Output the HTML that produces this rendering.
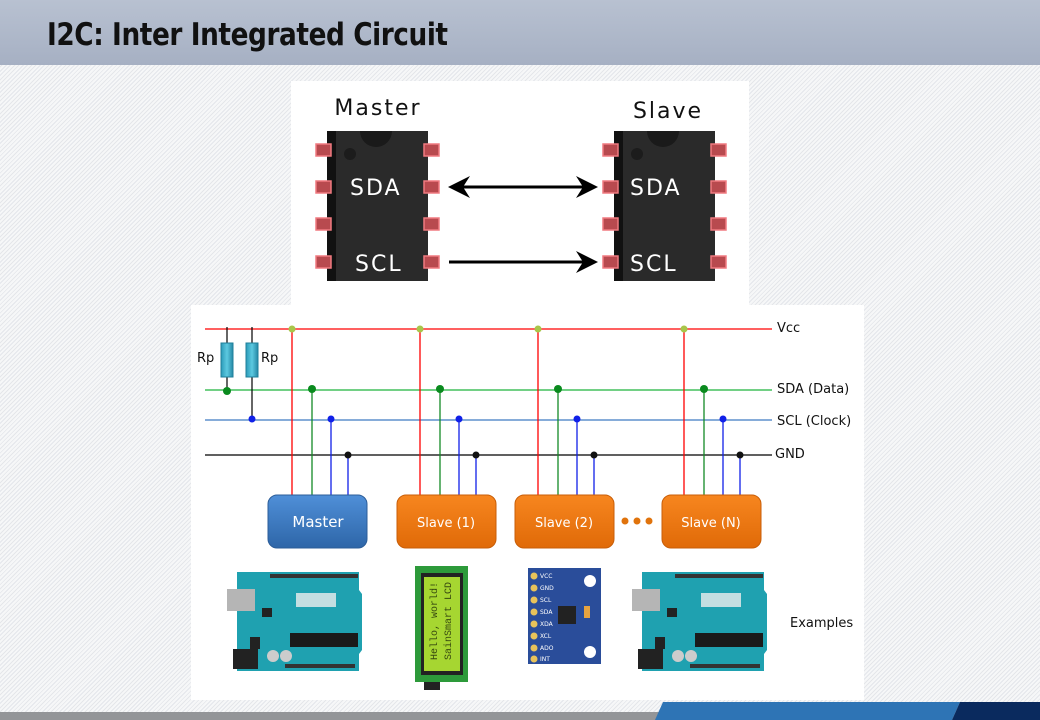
<!DOCTYPE html>
<html><head><meta charset="utf-8"><style>
html,body{margin:0;padding:0;width:1040px;height:720px;overflow:hidden}
body{background:#f3f4f6 repeating-linear-gradient(135deg,#f6f7f8 0 2px,#e4e6ea 2px 3px);position:relative;font-family:"Liberation Sans",sans-serif}
#hdr{position:absolute;left:0;top:0;width:1040px;height:65px;background:linear-gradient(#b8c1d1,#a6b0c3)}
#hdr div{position:absolute;left:47px;top:17px;font-size:31px;font-weight:bold;color:#111;font-family:"DejaVu Sans","Liberation Sans",sans-serif;letter-spacing:-0.5px;transform:scaleX(0.85);transform-origin:0 0;white-space:nowrap}
svg{position:absolute;left:0;top:0}
</style></head><body>
<div id="hdr"><div>I2C: Inter Integrated Circuit</div></div>
<svg width="1040" height="720" viewBox="0 0 1040 720" font-family="DejaVu Sans, Liberation Sans, sans-serif">
<defs>
<linearGradient id="bl" x1="0" y1="0" x2="0" y2="1"><stop offset="0" stop-color="#4f8fd8"/><stop offset="1" stop-color="#2e66a8"/></linearGradient>
<linearGradient id="or" x1="0" y1="0" x2="0" y2="1"><stop offset="0" stop-color="#f7861f"/><stop offset="1" stop-color="#e06a08"/></linearGradient>
<linearGradient id="rp" x1="0" y1="0" x2="1" y2="0"><stop offset="0" stop-color="#2b9ab8"/><stop offset=".5" stop-color="#5cc9e0"/><stop offset="1" stop-color="#2588a6"/></linearGradient>
</defs>
<rect x="291" y="81" width="458" height="224" fill="#fff"/>
<rect x="191" y="305" width="673" height="395" fill="#fff"/>
<g>
<text x="378" y="115" font-size="22" text-anchor="middle" fill="#111" letter-spacing="2">Master</text>
<text x="668" y="118" font-size="22" text-anchor="middle" fill="#111" letter-spacing="2">Slave</text>
<rect x="327" y="131" width="101" height="150" fill="#2a2a2a"/><rect x="327" y="131" width="9" height="150" fill="#111"/>
<path d="M360 131 a16 16 0 0 0 32 0z" fill="#1a1a1a"/><circle cx="350" cy="154" r="6" fill="#1c1c1c"/>
<rect x="614" y="131" width="101" height="150" fill="#2a2a2a"/><rect x="614" y="131" width="9" height="150" fill="#111"/>
<path d="M647 131 a16 16 0 0 0 32 0z" fill="#1a1a1a"/><circle cx="637" cy="154" r="6" fill="#1c1c1c"/>
<g fill="#b84a4f" stroke="#f07a80" stroke-width="1.5">
<rect x="316" y="144" width="15" height="12"/><rect x="316" y="181" width="15" height="12"/><rect x="316" y="218" width="15" height="12"/><rect x="316" y="256" width="15" height="12"/>
<rect x="424" y="144" width="15" height="12"/><rect x="424" y="181" width="15" height="12"/><rect x="424" y="218" width="15" height="12"/><rect x="424" y="256" width="15" height="12"/>
<rect x="603" y="144" width="15" height="12"/><rect x="603" y="181" width="15" height="12"/><rect x="603" y="218" width="15" height="12"/><rect x="603" y="256" width="15" height="12"/>
<rect x="711" y="144" width="15" height="12"/><rect x="711" y="181" width="15" height="12"/><rect x="711" y="218" width="15" height="12"/><rect x="711" y="256" width="15" height="12"/>
</g>
<g fill="#fff" font-size="22" letter-spacing="2"><text x="350" y="195">SDA</text><text x="355" y="271">SCL</text><text x="630" y="195">SDA</text><text x="630" y="271">SCL</text></g>
<line x1="462" y1="187" x2="585" y2="187" stroke="#000" stroke-width="3"/>
<path d="M448 187 L470 176 L463 187 L470 198Z M598 187 L576 176 L583 187 L576 198Z" fill="#000"/>
<line x1="449" y1="262" x2="585" y2="262" stroke="#000" stroke-width="3"/>
<path d="M598 262 L576 251 L583 262 L576 273Z" fill="#000"/>
</g>
<line x1="205" y1="329" x2="772" y2="329" stroke="#f00" stroke-width="1.2"/>
<line x1="205" y1="390" x2="772" y2="390" stroke="#1db33c" stroke-width="1.2"/>
<line x1="205" y1="420" x2="772" y2="420" stroke="#3f7ac2" stroke-width="1.2"/>
<line x1="205" y1="455" x2="772" y2="455" stroke="#000" stroke-width="1.2"/>
<g font-size="13" fill="#111"><text x="777" y="332">Vcc</text><text x="777" y="393">SDA (Data)</text><text x="777" y="425">SCL (Clock)</text><text x="775" y="458">GND</text>
<text x="197" y="362">Rp</text><text x="261" y="362">Rp</text></g>
<g stroke="#000" stroke-width="1.2"><line x1="227" y1="327" x2="227" y2="392"/><line x1="252" y1="327" x2="252" y2="420"/></g>
<rect x="221" y="343" width="12" height="34" fill="url(#rp)" stroke="#1f7f9a"/>
<rect x="246" y="343" width="12" height="34" fill="url(#rp)" stroke="#1f7f9a"/>
<circle cx="227" cy="391" r="4" fill="#0a8a1e"/><circle cx="252" cy="419" r="3.5" fill="#1020e8"/>
<g stroke-width="1.3">
<g id="t"><line x1="292" y1="329" x2="292" y2="495" stroke="#f00"/><line x1="312" y1="390" x2="312" y2="495" stroke="#138a25"/><line x1="331" y1="420" x2="331" y2="495" stroke="#1020e8"/><line x1="348" y1="455" x2="348" y2="495" stroke="#1020e8"/>
<circle cx="292" cy="329" r="3.5" fill="#a8c64a"/><circle cx="312" cy="389" r="4" fill="#0a8a1e"/><circle cx="331" cy="419" r="3.5" fill="#1020e8"/><circle cx="348" cy="455" r="3.5" fill="#111"/></g>
<use href="#t" transform="translate(128,0)"/><use href="#t" transform="translate(246,0)"/><use href="#t" transform="translate(392,0)"/>
</g>
<rect x="268" y="495" width="99" height="53" rx="9" fill="url(#bl)" stroke="#2c5d98"/>
<rect x="397" y="495" width="99" height="53" rx="9" fill="url(#or)" stroke="#c85e08"/>
<rect x="515" y="495" width="99" height="53" rx="9" fill="url(#or)" stroke="#c85e08"/>
<rect x="662" y="495" width="99" height="53" rx="9" fill="url(#or)" stroke="#c85e08"/>
<g fill="#fff" text-anchor="middle"><text x="318" y="527" font-size="15">Master</text><text x="446" y="527" font-size="13">Slave (1)</text><text x="564" y="527" font-size="13">Slave (2)</text><text x="711" y="527" font-size="13">Slave (N)</text></g>
<g fill="#e0730c"><circle cx="625" cy="521" r="3.5"/><circle cx="637" cy="521" r="3.5"/><circle cx="649" cy="521" r="3.5"/></g>
<text x="790" y="627" font-size="13" fill="#111">Examples</text>
<g id="ard">
<path d="M237 572 H359 V590 L362 594 V650 L359 654 V671 H237Z" fill="#1fa1b0"/>
<rect x="227" y="589" width="28" height="22" fill="#b5b5b5"/>
<rect x="233" y="649" width="25" height="20" fill="#222"/>
<rect x="290" y="633" width="68" height="14" fill="#1a1a1a"/>
<rect x="270" y="574" width="88" height="4" fill="#333"/><rect x="285" y="664" width="70" height="4" fill="#333"/>
<circle cx="273" cy="656" r="6" fill="#ccc"/><circle cx="286" cy="656" r="6" fill="#ccc"/>
<rect x="296" y="593" width="40" height="14" fill="#eee" opacity=".8"/>
<rect x="262" y="608" width="10" height="9" fill="#222"/><rect x="250" y="637" width="10" height="12" fill="#222"/>
</g>
<use href="#ard" transform="translate(405,0)"/>
<rect x="415" y="566" width="53" height="116" fill="#2d9a3a"/>
<rect x="421" y="573" width="42" height="102" fill="#222"/>
<rect x="424" y="577" width="36" height="94" fill="#a6d631"/>
<text transform="translate(437,660) rotate(-90)" font-size="10" fill="#384a10" font-family="Liberation Mono,monospace">Hello, world!</text>
<text transform="translate(451,660) rotate(-90)" font-size="10" fill="#384a10" font-family="Liberation Mono,monospace">SainSmart LCD</text>
<rect x="424" y="682" width="16" height="8" fill="#222"/>
<rect x="528" y="568" width="73" height="96" fill="#2a4d9a"/>
<g fill="#e8c35a"><circle cx="534" cy="576" r="3.5"/><circle cx="534" cy="588" r="3.5"/><circle cx="534" cy="600" r="3.5"/><circle cx="534" cy="612" r="3.5"/><circle cx="534" cy="624" r="3.5"/><circle cx="534" cy="636" r="3.5"/><circle cx="534" cy="648" r="3.5"/><circle cx="534" cy="659" r="3.5"/></g>
<circle cx="590" cy="581" r="6" fill="#fff"/><circle cx="590" cy="652" r="6" fill="#fff"/>
<rect x="558" y="606" width="18" height="18" fill="#222"/><rect x="584" y="606" width="6" height="12" fill="#e6a340"/>
<g fill="#fff" font-size="6"><text x="540" y="578">VCC</text><text x="540" y="590">GND</text><text x="540" y="602">SCL</text><text x="540" y="614">SDA</text><text x="540" y="626">XDA</text><text x="540" y="638">XCL</text><text x="540" y="650">ADO</text><text x="540" y="661">INT</text></g>
<rect x="0" y="712" width="660" height="8" fill="#939598"/>
<path d="M663 702 H960 L952 720 H655Z" fill="#2e74b5"/>
<path d="M960 702 H1040 V720 H952Z" fill="#0a2a5e"/>
</svg>
</body></html>
